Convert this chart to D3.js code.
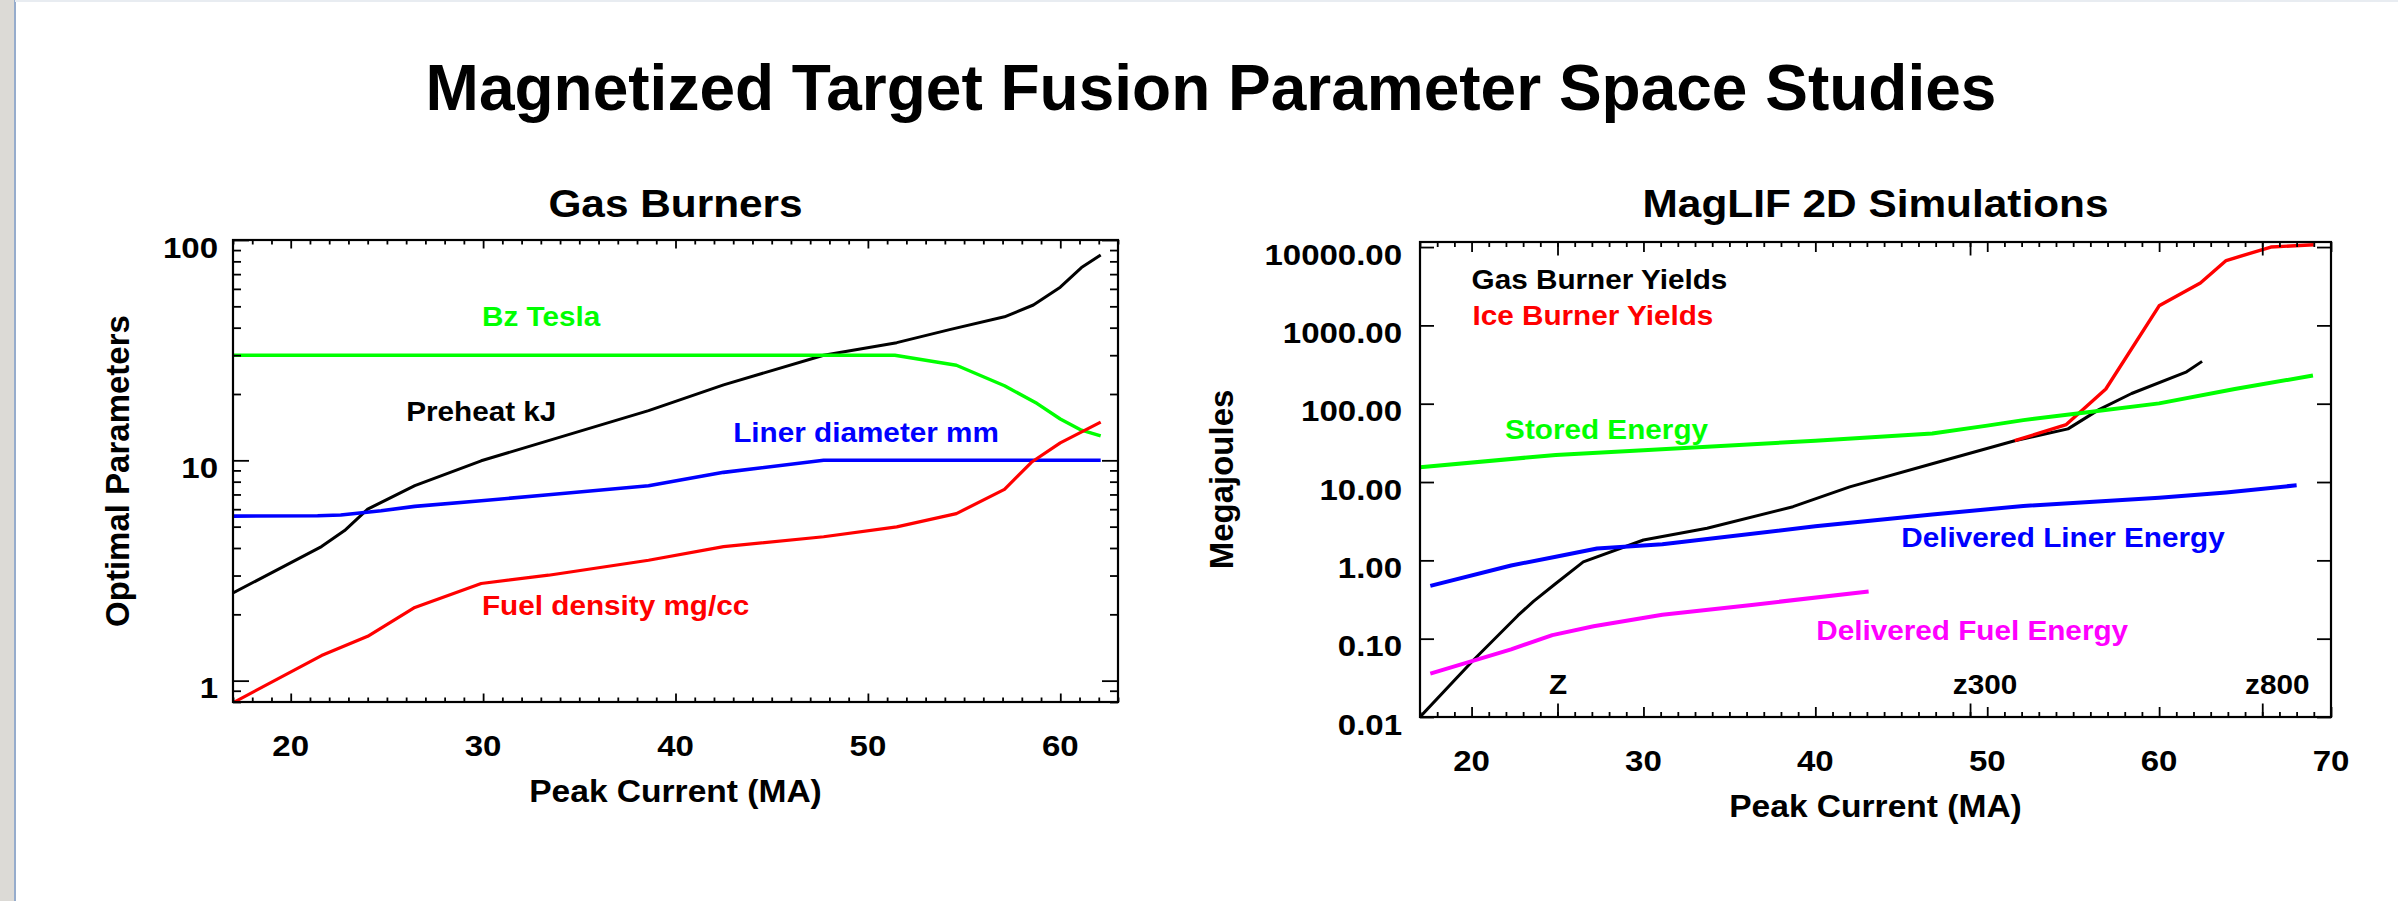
<!DOCTYPE html>
<html>
<head>
<meta charset="utf-8">
<title>Magnetized Target Fusion Parameter Space Studies</title>
<script src="https://cdn.jsdelivr.net/npm/d3@7"></script>
<style>
  html, body { margin: 0; padding: 0; background: #ffffff; overflow: hidden; }
  svg { display: block; }
</style>
</head>
<body>
<svg id="fig" width="2398" height="901"></svg>
<script>
// ---------------- data ----------------
// Gas Burners: optimal parameters vs peak current, as [MA, value]
const bzTesla         = [[17,30],[51.4,30],[54.6,27],[57.1,21.8],[58.8,18.1],[60,15.4],[61.1,13.7],[62.1,12.9]];
const preheatKJ       = [[17,2.5],[21.6,4.06],[22.8,4.8],[24.0,6.0],[26.45,7.67],[29.9,9.95],[38.6,16.8],[42.5,22.0],
                         [47.7,30],[51.5,34.2],[54.3,39.3],[57.1,44.8],[58.6,50.7],[60.0,61.1],[61.1,75],[62.1,85.5]];
const linerDiameterMM = [[17,5.58],[21.4,5.6],[22.6,5.65],[24.7,5.9],[26.45,6.18],[29.9,6.55],[33.4,6.98],[38.6,7.67],
                         [42.5,8.82],[47.7,10],[62.1,10]];
const fuelDensity     = [[17,0.794],[21.6,1.3],[24.0,1.59],[26.45,2.15],[29.9,2.76],[33.4,3.01],[38.6,3.52],[42.5,4.06],
                         [47.7,4.5],[51.5,4.99],[54.6,5.73],[57.1,7.38],[58.5,9.8],[60.0,12.0],[62.1,14.9]];

// MagLIF 2D simulations: energies in MJ vs peak current, as [MA, value]
const gasBurnerYield       = [[17,0.01],[20.1,0.053],[22.7,0.198],[23.6,0.30],[24.9,0.507],[26.5,0.956],[30,1.82],
                              [33.7,2.57],[38.7,4.84],[42,8.67],[46.8,17.1],[51.6,33.7],[54.7,47.7],[56.5,84],
                              [58.4,135],[61.6,255],[62.5,347]];
const iceBurnerYield       = [[51.6,33.7],[54.6,54.2],[56.9,154],[60,1778],[62.4,3470],[63.9,6730],[66.5,10000],[69,10700]];
const storedEnergy         = [[17,15.4],[24.9,22.2],[30,25.4],[40,33.7],[46.8,41.6],[50,52.5],[52.1,61.7],[55.6,76.4],
                              [60,101],[64.4,154],[68.95,229]];
const deliveredLinerEnergy = [[17.6,0.473],[22.3,0.86],[24.9,1.11],[27.3,1.42],[31.1,1.61],[40,2.72],[46.8,3.85],
                              [52.1,4.95],[60,6.28],[63.9,7.36],[68,9.08]];
const deliveredFuelEnergy  = [[17.6,0.0358],[22.3,0.073],[24.7,0.111],[27.1,0.144],[31.1,0.202],[36.3,0.27],[43.1,0.40]];

// tick values and labels
const leftXTicks  = [20, 30, 40, 50, 60];
const leftYTicks  = [1, 10, 100];
const rightXTicks = [20, 30, 40, 50, 60, 70];
const rightYTicks = [0.01, 0.1, 1, 10, 100, 1000, 10000];
const machines    = ["Z", "z300", "z800"];
const machineMA   = [25, 49, 66];      // tick position
const machineText = [24.5, 48, 65];    // label start

// ---------------- drawing ----------------
const FONT = "'Liberation Sans', Arial, Helvetica, sans-serif";
const SX = 1.1;   // horizontal stretch of the plot lettering
const svg = d3.select("#fig");

// page chrome on the left edge
svg.append("rect").attr("x", 0).attr("y", 0).attr("width", 14).attr("height", 901).attr("fill", "#dcdad6");
svg.append("line").attr("x1", 15).attr("x2", 15).attr("y1", 0).attr("y2", 901)
   .attr("stroke", "#7391bb").attr("stroke-width", 1.5);
svg.append("rect").attr("x", 15).attr("y", 0).attr("width", 2383).attr("height", 2).attr("fill", "#e8ecf1");

svg.append("text")
   .attr("x", 1211).attr("y", 110)
   .attr("text-anchor", "middle")
   .attr("font-family", FONT).attr("font-weight", "bold").attr("font-size", 64)
   .text("Magnetized Target Fusion Parameter Space Studies");

function label(g, x, y, txt, o) {
  o = o || {};
  return g.append("text")
    .attr("transform", `translate(${x},${y}) scale(${SX},1)`)
    .attr("text-anchor", o.anchor || "start")
    .attr("font-family", FONT).attr("font-weight", "bold")
    .attr("font-size", o.size || 27)
    .attr("fill", o.color || "#000")
    .text(txt);
}

function tickAxis(g, axis, tx, ty) {
  const a = g.append("g").attr("transform", `translate(${tx},${ty})`).call(axis);
  a.select(".domain").remove();
  a.selectAll(".tick line").attr("stroke", "#000").attr("stroke-width", 1.8);
  return a;
}

function panel(P) {
  const g = svg.append("g");
  const x = d3.scaleLinear().domain(P.xDomain).range([P.x0, P.x1]);
  const y = d3.scaleLog().domain(P.yDomain).range([P.y1, P.y0]);

  const clipId = "clip" + P.id;
  g.append("clipPath").attr("id", clipId).append("rect")
   .attr("x", P.x0).attr("y", P.y0).attr("width", P.x1 - P.x0).attr("height", P.y1 - P.y0);

  // series
  const line = d3.line().x(d => x(d[0])).y(d => y(d[1]));
  const lines = g.append("g").attr("clip-path", `url(#${clipId})`);
  P.series.forEach(s => {
    lines.append("path").datum(s.data)
      .attr("d", line).attr("fill", "none")
      .attr("stroke", s.color).attr("stroke-width", s.width)
      .attr("stroke-linejoin", "round").attr("stroke-linecap", "butt");
  });

  // x ticks (bottom + top, pointing inward)
  const xMinor = d3.range(Math.ceil(P.xDomain[0]), Math.floor(P.xDomain[1]) + 1)
                   .filter(v => P.xTicks.indexOf(v) < 0);
  [[d3.axisBottom, P.y1], [d3.axisTop, P.y0]].forEach(([mk, yy]) => {
    tickAxis(g, mk(x).tickValues(xMinor).tickSize(-P.xMinorLen).tickFormat(""), 0, yy);
    tickAxis(g, mk(x).tickValues(P.xTicks).tickSize(-P.xMajorLen).tickFormat(""), 0, yy);
    if (P.special) tickAxis(g, mk(x).tickValues(P.special).tickSize(-P.specialLen).tickFormat(""), 0, yy);
  });

  // y ticks (left + right, pointing inward)
  [[d3.axisLeft, P.x0], [d3.axisRight, P.x1]].forEach(([mk, xx]) => {
    tickAxis(g, mk(y).tickValues(P.yTicks).tickSize(-P.yMajorLen).tickFormat(""), xx, 0);
    if (P.yMinor) tickAxis(g, mk(y).tickValues(P.yMinor).tickSize(-P.yMinorLen).tickFormat(""), xx, 0);
  });

  // frame
  g.append("rect").attr("x", P.x0).attr("y", P.y0)
   .attr("width", P.x1 - P.x0).attr("height", P.y1 - P.y0)
   .attr("fill", "none").attr("stroke", "#000").attr("stroke-width", 2.2);

  // tick labels
  P.xTicks.forEach(v => label(g, x(v), P.y1 + 54, String(v), {anchor: "middle", size: 30}));
  P.yTicks.forEach(v => label(g, P.x0 - P.yLabelGap, y(v) + 7 + 10.5, P.yFormat(v), {anchor: "end", size: 30}));

  // titles
  const cx = (P.x0 + P.x1) / 2, cy = (P.y0 + P.y1) / 2;
  label(g, cx, 217, P.title, {anchor: "middle", size: 38.5});
  label(g, cx, P.y1 + 100, "Peak Current (MA)", {anchor: "middle", size: 30.5});
  g.append("text")
   .attr("transform", `translate(${P.yTitleX},${cy}) rotate(-90)`)
   .attr("text-anchor", "middle")
   .attr("font-family", FONT).attr("font-weight", "bold").attr("font-size", 33)
   .text(P.yTitle);

  // in-plot annotations
  P.notes.forEach(n => label(g, x(n.at[0]), n.at[1], n.text, {color: n.color, size: 27}));
  return {g, x, y};
}

// minor log ticks between decades
function logMinor(lo, hi) {
  const out = [];
  for (let e = Math.floor(Math.log10(lo)); e <= Math.ceil(Math.log10(hi)); e++) {
    for (let m = 2; m <= 9; m++) {
      const v = m * Math.pow(10, e);
      if (v >= lo && v <= hi) out.push(v);
    }
  }
  return out;
}

panel({
  id: "L", x0: 233, x1: 1118, y0: 240, y1: 702,
  xDomain: [17, 63], yDomain: [0.8, 100],
  xTicks: leftXTicks, yTicks: leftYTicks, yMinor: logMinor(0.8, 100),
  xMinorLen: 4.5, xMajorLen: 8.5, yMajorLen: 16, yMinorLen: 8,
  yLabelGap: 15, yFormat: v => String(v),
  title: "Gas Burners", yTitle: "Optimal Parameters", yTitleX: 129,
  series: [
    {data: preheatKJ, color: "#000000", width: 3},
    {data: bzTesla, color: "#00ff00", width: 3.4},
    {data: linerDiameterMM, color: "#0000ff", width: 3.6},
    {data: fuelDensity, color: "#ff0000", width: 3.2}
  ],
  notes: [
    {text: "Bz Tesla", color: "#00ff00", at: [29.94, 326]},
    {text: "Preheat kJ", color: "#000000", at: [26.0, 421]},
    {text: "Liner diameter mm", color: "#0000ff", at: [43.0, 442]},
    {text: "Fuel density mg/cc", color: "#ff0000", at: [29.94, 615]}
  ]
});

const R = panel({
  id: "R", x0: 1420, x1: 2331, y0: 242, y1: 717,
  xDomain: [17, 70], yDomain: [0.01, 11600],
  xTicks: rightXTicks, yTicks: rightYTicks, yMinor: null, special: machineMA,
  xMinorLen: 5, xMajorLen: 10, specialLen: 13.5, yMajorLen: 14,
  yLabelGap: 18, yFormat: v => v.toFixed(2),
  title: "MagLIF 2D Simulations", yTitle: "Megajoules", yTitleX: 1233,
  series: [
    {data: gasBurnerYield, color: "#000000", width: 3},
    {data: iceBurnerYield, color: "#ff0000", width: 3.4},
    {data: storedEnergy, color: "#00ff00", width: 4},
    {data: deliveredLinerEnergy, color: "#0000ff", width: 4},
    {data: deliveredFuelEnergy, color: "#ff00ff", width: 4}
  ],
  notes: [
    {text: "Gas Burner Yields", color: "#000000", at: [20.0, 289]},
    {text: "Ice Burner Yields", color: "#ff0000", at: [20.05, 325]},
    {text: "Stored Energy", color: "#00ff00", at: [21.95, 439]},
    {text: "Delivered Liner Energy", color: "#0000ff", at: [45.0, 547]},
    {text: "Delivered Fuel Energy", color: "#ff00ff", at: [40.05, 640]}
  ]
});

// machine markers along the current axis
machines.forEach((m, i) => label(R.g, R.x(machineText[i]), 694, m, {size: 27}));
</script>
</body>
</html>
